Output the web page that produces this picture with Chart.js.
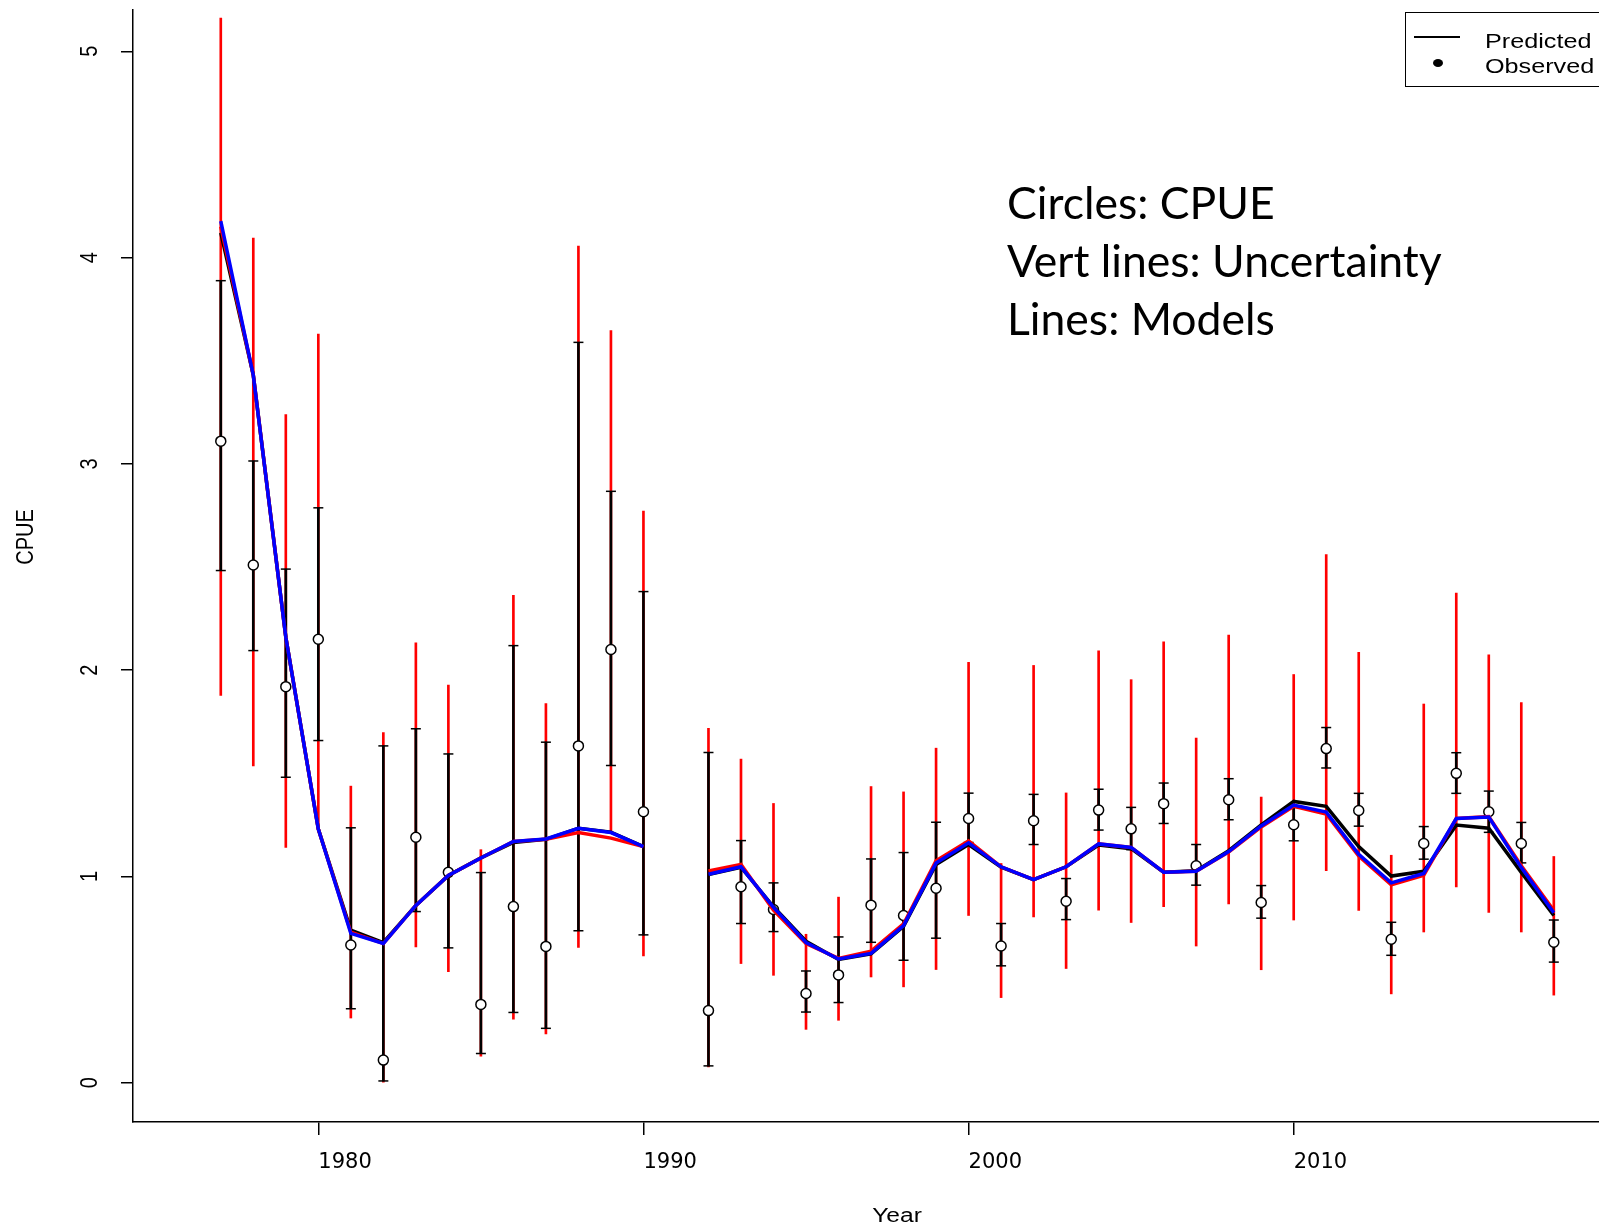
<!DOCTYPE html>
<html>
<head>
<meta charset="utf-8">
<script src="https://cdn.jsdelivr.net/npm/chart.js@4.4.1/dist/chart.umd.min.js"></script>
<style>
html, body { margin: 0; padding: 0; background: #fff; overflow: hidden; }
#wrap { position: relative; width: 1599px; height: 1225px; overflow: hidden; background: #fff; }
#c { position: absolute; left: 0; top: 0; }
#lgbox { position: absolute; left: 1405px; top: 12px; width: 300px; height: 75px; border: 1.5px solid #000; box-sizing: border-box; }
#lgline { position: absolute; left: 1414px; top: 36px; width: 46px; height: 2px; background: #000; }
#lgdot { position: absolute; left: 1433px; top: 59px; width: 10px; height: 8px; border-radius: 50%; background: #000; }
.lgt { position: absolute; left: 1485px; font-family: "Liberation Sans", Arial, sans-serif; font-size: 20px; line-height: 20px; transform: scaleX(1.26); transform-origin: 0 0; white-space: nowrap; color: #000; }
#note { position: absolute; left: 1007px; top: 173px; font-family: Lato, "Open Sans", sans-serif; font-size: 44.5px; line-height: 58px; color: #000; white-space: nowrap; }
</style>
</head>
<body>
<div id="wrap">
  <canvas id="c" width="1599" height="1225"></canvas>
  <div id="lgbox"></div>
  <div id="lgline"></div>
  <div id="lgdot"></div>
  <div class="lgt" style="top:31px">Predicted</div>
  <div class="lgt" style="top:56px">Observed</div>
  <div id="note">Circles: CPUE<br>Vert lines: Uncertainty<br>Lines: Models</div>
</div>
<script>
// ---- data ----
const years = [1977,1978,1979,1980,1981,1982,1983,1984,1985,1986,1987,1988,1989,1990,1991,
  1992,1993,1994,1995,1996,1997,1998,1999,2000,2001,2002,2003,2004,2005,2006,2007,2008,2009,
  2010,2011,2012,2013,2014,2015,2016,2017,2018];

const observed = [3.11,2.51,1.92,2.15,0.668,0.11,1.19,1.02,0.38,0.854,0.661,1.633,2.10,1.314,null,
  0.35,0.95,0.84,0.433,0.523,0.861,0.811,0.943,1.281,0.663,1.270,0.880,1.322,1.231,1.353,1.052,1.372,0.874,
  1.251,1.620,1.320,0.696,1.160,1.500,1.314,1.160,0.681];

const innerLow = [2.483,2.095,1.481,1.659,0.359,0.009,0.830,0.654,0.142,0.341,0.264,0.737,1.538,0.717,null,
  0.082,0.772,0.733,0.343,0.389,0.681,0.594,0.701,1.165,0.567,1.155,0.791,1.225,1.130,1.257,0.958,1.275,0.798,
  1.173,1.526,1.244,0.618,1.084,1.403,1.214,1.066,0.585];
const innerHigh = [3.888,3.014,2.490,2.787,1.236,1.633,1.716,1.594,1.019,2.119,1.651,3.589,2.867,2.381,null,
  1.601,1.174,0.969,0.542,0.707,1.085,1.116,1.263,1.404,0.772,1.398,0.990,1.423,1.335,1.453,1.155,1.474,0.956,
  1.335,1.722,1.403,0.778,1.242,1.600,1.414,1.262,0.789];

const outerLow = [1.878,1.536,1.141,1.240,0.314,0.000,0.659,0.539,0.129,0.309,0.237,0.656,1.210,0.615,null,
  0.077,0.578,0.521,0.259,0.303,0.513,0.465,0.549,0.811,0.413,0.804,0.554,0.837,0.777,0.854,0.663,0.867,0.548,
  0.789,1.028,0.835,0.431,0.731,0.950,0.826,0.731,0.425];
const outerHigh = [5.161,4.094,3.239,3.629,1.438,1.698,2.133,1.928,1.130,2.363,1.838,4.056,3.646,2.771,null,
  1.718,1.569,1.354,0.720,0.900,1.436,1.410,1.622,2.038,1.063,2.023,1.405,2.094,1.954,2.138,1.671,2.170,1.385,
  1.979,2.560,2.086,1.103,1.836,2.374,2.075,1.843,1.097];

const modelBlack = [4.12,3.43,2.16,1.23,0.74,0.68,0.86,1.005,1.09,1.165,1.18,1.234,1.215,1.145,null,
  1.01,1.045,0.853,0.686,0.598,0.625,0.758,1.058,1.155,1.045,0.985,1.047,1.152,1.135,1.021,1.028,1.125,1.25,
  1.364,1.34,1.145,1.002,1.025,1.249,1.234,1.02,0.811];
const modelRed = [4.15,3.43,2.16,1.23,0.73,0.675,0.86,1.005,1.09,1.17,1.18,1.213,1.186,1.145,null,
  1.027,1.058,0.837,0.675,0.603,0.638,0.77,1.076,1.173,1.047,0.985,1.047,1.158,1.141,1.021,1.025,1.118,1.24,
  1.34,1.303,1.099,0.96,1.006,1.281,1.29,1.052,0.835];
const modelBlue = [4.177,3.43,2.16,1.23,0.724,0.675,0.86,1.005,1.09,1.17,1.182,1.234,1.213,1.145,null,
  1.011,1.047,0.85,0.68,0.60,0.627,0.762,1.065,1.163,1.047,0.985,1.047,1.158,1.141,1.021,1.025,1.121,1.245,
  1.346,1.312,1.108,0.969,1.015,1.281,1.288,1.043,0.824];

const xTicks = [1980, 1990, 2000, 2010];
const xTickLabels = ['1980', '1990', '2000', '2010'];
const yTicks = [0, 1, 2, 3, 4, 5];
const yTickLabels = ['0', '1', '2', '3', '4', '5'];

// ---- helpers building library data from the arrays ----
const linePts = arr => years.map((x, i) => ({ x: x, y: arr[i] }));
const rangePts = (lo, hi) => years.map((x, i) => lo[i] == null ? null : ({ x: x, y: [lo[i], hi[i]] })).filter(Boolean);
const capPts = years.flatMap((x, i) => innerLow[i] == null ? [] : [{ x: x, y: innerLow[i] }, { x: x, y: innerHigh[i] }]);
const obsPts = years.map((x, i) => observed[i] == null ? null : ({ x: x, y: observed[i] })).filter(Boolean);

const axisText = {
  id: 'axisText',
  afterDraw(chart) {
    const ctx = chart.ctx;
    const ys = chart.scales.y;
    ctx.save();
    ctx.fillStyle = '#000';
    ctx.font = '20px "Liberation Sans", Arial, sans-serif';
    ctx.textAlign = 'center';
    ctx.textBaseline = 'middle';
    ys.ticks.forEach((t, i) => {
      const py = ys.getPixelForValue(t.value);
      ctx.save();
      ctx.translate(90, py);
      ctx.scale(1.23, 1);
      ctx.rotate(-Math.PI / 2);
      ctx.fillText(yTickLabels[i], 0, 0);
      ctx.restore();
    });
    ctx.save();
    ctx.translate(26, 537);
    ctx.scale(1.23, 1);
    ctx.rotate(-Math.PI / 2);
    ctx.fillText('CPUE', 0, 0);
    ctx.restore();
    ctx.save();
    ctx.textBaseline = 'alphabetic';
    ctx.translate(897, 1222);
    ctx.scale(1.23, 1);
    ctx.fillText('Year', 0, 0);
    ctx.restore();
    ctx.restore();
  }
};

new Chart(document.getElementById('c'), {
  type: 'line',
  data: {
    datasets: [
      { type: 'bar', data: rangePts(outerLow, outerHigh), backgroundColor: '#ff0000', borderWidth: 0,
        barThickness: 2, grouped: false, order: 6 },
      { type: 'bar', data: rangePts(innerLow, innerHigh), backgroundColor: '#000000', borderWidth: 0,
        barThickness: 2, grouped: false, order: 5 },
      { type: 'scatter', data: capPts, pointStyle: 'line', pointRadius: 5, pointBorderWidth: 1.5,
        borderColor: '#000', backgroundColor: '#000', order: 4 },
      { type: 'scatter', data: obsPts, pointStyle: 'circle', pointRadius: 5, pointBorderWidth: 1.5,
        borderColor: '#000', backgroundColor: '#fff', order: 3 },
      { type: 'line', data: linePts(modelBlack), borderColor: '#000000', borderWidth: 3.5, pointRadius: 0,
        spanGaps: false, tension: 0, fill: false, order: 2 },
      { type: 'line', data: linePts(modelRed), borderColor: '#ff0000', borderWidth: 3.5, pointRadius: 0,
        spanGaps: false, tension: 0, fill: false, order: 1 },
      { type: 'line', data: linePts(modelBlue), borderColor: '#0000ff', borderWidth: 3.5, pointRadius: 0,
        spanGaps: false, tension: 0, fill: false, order: 0 }
    ]
  },
  options: {
    responsive: false,
    animation: false,
    events: [],
    devicePixelRatio: 1,
    layout: { autoPadding: false, padding: { top: 10, right: 0, left: 0, bottom: 0 } },
    plugins: { legend: { display: false }, tooltip: { enabled: false }, title: { display: false } },
    scales: {
      x: {
        type: 'linear',
        offset: false,
        min: 1974.3,
        max: 2019.39,
        afterBuildTicks: s => { s.ticks = xTicks.map(v => ({ value: v })); },
        afterFit: s => { s.height = 103; },
        ticks: {
          autoSkip: false, maxRotation: 0, minRotation: 0, align: 'start', padding: 15,
          color: '#000', font: { family: 'DejaVu Sans', size: 21 },
          callback: (v, i) => xTickLabels[i]
        },
        grid: { display: true, offset: false, drawOnChartArea: false, drawTicks: true, tickLength: 13, color: '#000', lineWidth: 1.5 },
        border: { display: true, color: '#000', width: 1.5 }
      },
      y: {
        type: 'linear',
        min: -0.19,
        max: 5.2,
        afterBuildTicks: s => { s.ticks = yTicks.map(v => ({ value: v })); },
        afterFit: s => { s.width = 133; },
        ticks: { display: false },
        grid: { display: true, drawOnChartArea: false, drawTicks: true, tickLength: 12, color: '#000', lineWidth: 1.5 },
        border: { display: true, color: '#000', width: 1.5 }
      }
    }
  },
  plugins: [axisText]
});
</script>
</body>
</html>
